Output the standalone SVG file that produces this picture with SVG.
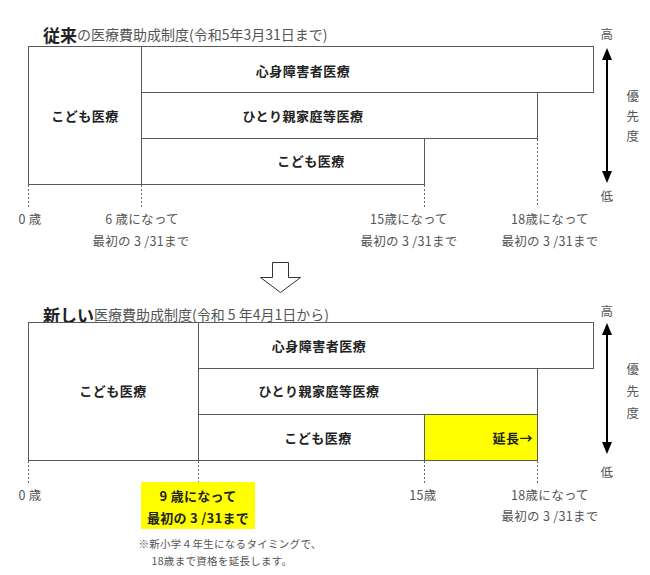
<svg xmlns="http://www.w3.org/2000/svg" width="650" height="575" viewBox="0 0 650 575">
<style>
text{font-family:"Noto Sans CJK JP","Noto Sans",sans-serif;dominant-baseline:central}
.box{fill:#fff;stroke:#595959;stroke-width:1}
.yel{fill:#ffff00;stroke:#595959;stroke-width:1}
.lb{font-size:13px;font-weight:bold;fill:#222;text-anchor:middle;letter-spacing:0.5px}
.sm{font-size:12.5px;fill:#555;text-anchor:middle;letter-spacing:0.3px}
.ttl{font-size:14px;fill:#555}
.ttlb{font-size:17px;font-weight:bold;fill:#222}
.note{font-size:10.5px;fill:#555;text-anchor:middle;letter-spacing:0.3px}
.dot{stroke:#666;stroke-width:1;stroke-dasharray:2 2;fill:none}
.ax{stroke:#000;stroke-width:2;fill:none}
.ah{fill:#000}
</style>

<!-- Top section -->
<g id="title-old"><text x="43" y="34"><tspan class="ttlb">従来</tspan><tspan class="ttl">の医療費助成制度(令和5年3月31日まで)</tspan></text></g>
<g id="old-kodomo-left"><rect class="box" x="28.5" y="46.5" width="113" height="138"/><text class="lb" x="85" y="115">こども医療</text></g>
<g id="old-shinshin"><rect class="box" x="141.5" y="46.5" width="452" height="46"/><text class="lb" x="303" y="70">心身障害者医療</text></g>
<g id="old-hitori"><rect class="box" x="141.5" y="92.5" width="396" height="46"/><text class="lb" x="303" y="115">ひとり親家庭等医療</text></g>
<g id="old-kodomo"><rect class="box" x="141.5" y="138.5" width="283" height="46"/><text class="lb" x="311" y="160">こども医療</text></g>

<g id="old-labels">
<text class="sm" x="30" y="218">0 歳</text>
<text class="sm" x="142" y="218">6 歳になって</text>
<text class="sm" x="141" y="240">最初の 3 /31まで</text>
<text class="sm" x="409" y="218">15歳になって</text>
<text class="sm" x="409" y="240">最初の 3 /31まで</text>
<text class="sm" x="550" y="218">18歳になって</text>
<text class="sm" x="550" y="240">最初の 3 /31まで</text>
<text class="sm" x="607" y="33">高</text>
<text class="sm" x="607" y="195">低</text>
<text class="sm" x="633" y="95">優</text>
<text class="sm" x="633" y="115">先</text>
<text class="sm" x="633" y="135">度</text>
</g>

<!-- transition arrow -->
<g id="down-arrow"><path d="M272.5,262.5 H288.5 V277.5 H300.5 L280.5,292.5 L260.5,277.5 H272.5 Z" fill="#fff" stroke="#333" stroke-width="1"/></g>

<!-- Bottom section -->
<g id="title-new"><text x="43" y="314"><tspan class="ttlb">新しい</tspan><tspan class="ttl">医療費助成制度(令和 5 年4月1日から)</tspan></text></g>
<g id="new-kodomo-left"><rect class="box" x="28.5" y="322.5" width="170" height="138"/><text class="lb" x="113" y="390">こども医療</text></g>
<g id="new-shinshin"><rect class="box" x="198.5" y="322.5" width="395" height="46"/><text class="lb" x="319" y="345">心身障害者医療</text></g>
<g id="new-hitori"><rect class="box" x="198.5" y="368.5" width="339" height="46"/><text class="lb" x="319" y="390">ひとり親家庭等医療</text></g>
<g id="new-kodomo"><rect class="box" x="198.5" y="414.5" width="339" height="46"/><text class="lb" x="318" y="437">こども医療</text></g>
<g id="new-encho"><rect class="yel" x="424.5" y="414.5" width="113" height="46"/><text class="lb" x="533" y="437" style="text-anchor:end">延長→</text></g>
<g id="new-9sai"><rect x="141" y="482" width="114" height="47" fill="#ffff00"/><text class="lb" x="198" y="495" style="letter-spacing:0.3px">9 歳になって</text><text class="lb" x="198" y="517" style="letter-spacing:0.3px">最初の 3 /31まで</text></g>

<g id="new-labels">
<text class="sm" x="30" y="494">0 歳</text>
<text class="sm" x="423" y="494">15歳</text>
<text class="sm" x="550" y="494">18歳になって</text>
<text class="sm" x="550" y="515">最初の 3 /31まで</text>
<text class="note" x="230" y="543">※新小学４年生になるタイミングで、</text>
<text class="note" x="222" y="560">18歳まで資格を延長します。</text>
<text class="sm" x="607" y="310">高</text>
<text class="sm" x="607" y="471">低</text>
<text class="sm" x="633" y="368">優</text>
<text class="sm" x="633" y="390">先</text>
<text class="sm" x="633" y="412">度</text>
</g>

<g id="connectors">
<line class="dot" x1="28.5" y1="185" x2="28.5" y2="207"/>
<line class="dot" x1="141.5" y1="185" x2="141.5" y2="207"/>
<line class="dot" x1="424.5" y1="185" x2="424.5" y2="207"/>
<line class="dot" x1="537.5" y1="139" x2="537.5" y2="207"/>
<line class="ax" x1="607" y1="58" x2="607" y2="172"/>
<path class="ah" d="M607,48 L602,60 L612,60 Z"/>
<path class="ah" d="M607,183 L602,171 L612,171 Z"/>

<line class="dot" x1="28.5" y1="461" x2="28.5" y2="483"/>
<line class="dot" x1="198.5" y1="461" x2="198.5" y2="482"/>
<line class="dot" x1="424.5" y1="461" x2="424.5" y2="483"/>
<line class="dot" x1="537.5" y1="461" x2="537.5" y2="483"/>
<line class="ax" x1="607" y1="333" x2="607" y2="444"/>
<path class="ah" d="M607,323 L602,335 L612,335 Z"/>
<path class="ah" d="M607,454 L602,442 L612,442 Z"/>
</g>
</svg>
